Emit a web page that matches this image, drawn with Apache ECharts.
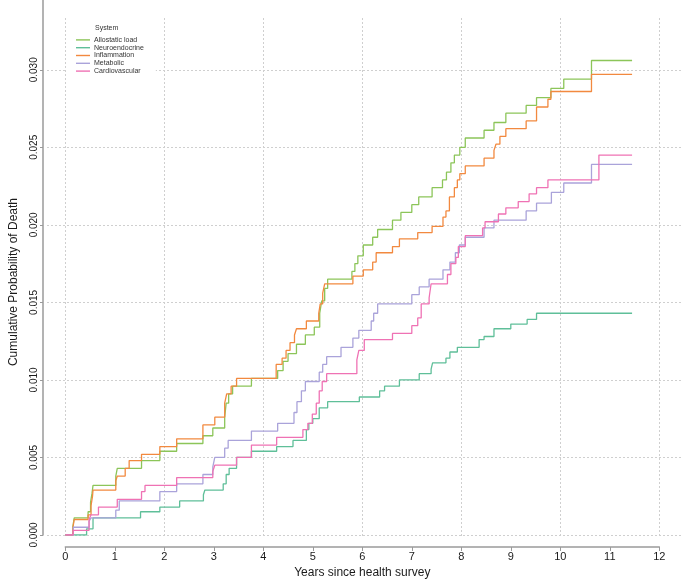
<!DOCTYPE html>
<html>
<head>
<meta charset="utf-8">
<script src="https://cdn.jsdelivr.net/npm/echarts@6/dist/echarts.min.js"></script>
<style>
html,body{margin:0;padding:0;background:#fff;}
#chart{width:685px;height:580px;}
</style>
</head>
<body>
<div id="chart"></div>
<script>
// ---- data: [years, cumulative probability] at each step ----
const seriesNames = ['Allostatic load', 'Neuroendocrine', 'Inflammation', 'Metabolic', 'Cardiovascular'];

const allostaticLoad = [[0,0],[0.15,0.0005],[0.18,0.0011],[0.46,0.0015],[0.51,0.0021],[0.54,0.0027],[0.56,0.0032],[1.02,0.0038],[1.05,0.0043],[1.54,0.0048],[1.91,0.0054],[2.25,0.0059],[2.78,0.0064],[2.98,0.0069],[3.22,0.0076],[3.25,0.0085],[3.3,0.0091],[3.38,0.0096],[3.76,0.0101],[4.29,0.0106],[4.4,0.0112],[4.5,0.0117],[4.67,0.0123],[4.85,0.0129],[5.03,0.0134],[5.14,0.0143],[5.18,0.0151],[5.24,0.0159],[5.3,0.0165],[5.79,0.017],[5.85,0.0175],[5.91,0.018],[6.02,0.0187],[6.21,0.0192],[6.31,0.0197],[6.61,0.0203],[6.78,0.0208],[7.0,0.0213],[7.14,0.0218],[7.41,0.0224],[7.62,0.0229],[7.7,0.0234],[7.79,0.024],[7.86,0.0245],[7.97,0.025],[8.08,0.0256],[8.46,0.0261],[8.66,0.0266],[8.9,0.0272],[9.31,0.0277],[9.52,0.0282],[9.81,0.0288],[10.07,0.0294],[10.63,0.0306],[11.45,0.0306]];

const neuroendocrine = [[0,0],[0.43,0.0004],[0.56,0.0011],[1.52,0.0015],[1.91,0.0018],[2.31,0.0022],[2.79,0.0026],[2.82,0.0029],[3.19,0.0033],[3.25,0.0039],[3.31,0.0043],[3.46,0.005],[3.76,0.0054],[4.27,0.0057],[4.6,0.0061],[4.87,0.0068],[4.92,0.0072],[5.0,0.0075],[5.13,0.0082],[5.3,0.0086],[5.94,0.0089],[6.35,0.0093],[6.45,0.0096],[6.75,0.01],[7.15,0.0104],[7.39,0.0107],[7.42,0.0111],[7.69,0.0114],[7.77,0.0118],[7.92,0.0121],[8.36,0.0126],[8.46,0.0128],[8.66,0.0133],[9.0,0.0136],[9.33,0.0139],[9.52,0.0143],[11.45,0.0143]];

const inflammation = [[0,0],[0.15,0.0004],[0.18,0.001],[0.46,0.0013],[0.52,0.0019],[0.55,0.0025],[0.56,0.0029],[1.02,0.0035],[1.05,0.0038],[1.21,0.0043],[1.29,0.0048],[1.54,0.0052],[1.91,0.0057],[2.25,0.0062],[2.78,0.0071],[3.02,0.0076],[3.22,0.0085],[3.26,0.0091],[3.35,0.0096],[3.46,0.0101],[4.26,0.011],[4.38,0.0114],[4.46,0.0119],[4.54,0.0124],[4.63,0.0129],[4.67,0.0133],[4.87,0.0138],[5.12,0.0143],[5.15,0.0149],[5.2,0.0156],[5.24,0.0162],[5.81,0.0167],[6.02,0.0171],[6.21,0.0176],[6.28,0.0182],[6.61,0.0186],[6.75,0.0191],[7.12,0.0195],[7.41,0.0199],[7.63,0.0205],[7.69,0.0209],[7.76,0.0218],[7.86,0.0224],[7.92,0.0229],[7.97,0.0233],[8.08,0.0238],[8.46,0.0243],[8.66,0.0248],[8.7,0.0252],[8.78,0.0257],[8.9,0.0262],[9.31,0.0267],[9.52,0.0276],[9.75,0.0281],[9.81,0.0286],[10.63,0.0297],[11.45,0.0297]];

const metabolic = [[0,0],[0.16,0.0005],[0.48,0.0009],[0.52,0.0011],[1.02,0.0016],[1.09,0.0022],[1.91,0.0028],[2.25,0.0033],[2.78,0.0039],[2.98,0.0044],[3.02,0.005],[3.22,0.0056],[3.29,0.0061],[3.76,0.0067],[4.29,0.0072],[4.62,0.0079],[4.68,0.0086],[4.77,0.0093],[4.85,0.0099],[5.13,0.0105],[5.2,0.011],[5.28,0.0115],[5.57,0.0121],[5.81,0.0127],[5.93,0.0132],[6.18,0.0138],[6.23,0.0143],[6.31,0.0149],[7.0,0.0155],[7.15,0.016],[7.35,0.0165],[7.63,0.0171],[7.77,0.0176],[7.88,0.0182],[7.96,0.0187],[8.08,0.0192],[8.46,0.0198],[8.66,0.0203],[9.31,0.0209],[9.52,0.0214],[9.82,0.0221],[10.07,0.0227],[10.63,0.0239],[11.45,0.0239]];

const cardiovascular = [[0,0],[0.16,0.0003],[0.48,0.001],[0.52,0.0013],[0.67,0.0018],[1.05,0.0023],[1.54,0.0028],[1.61,0.0032],[2.25,0.0037],[2.98,0.0041],[3.02,0.0045],[3.46,0.005],[3.76,0.0058],[4.27,0.0063],[4.8,0.0068],[4.9,0.0072],[4.99,0.0078],[5.07,0.0085],[5.13,0.0093],[5.19,0.0099],[5.28,0.0104],[5.89,0.0113],[5.93,0.0119],[6.04,0.0126],[6.61,0.013],[7.0,0.0135],[7.12,0.014],[7.19,0.0149],[7.35,0.0153],[7.39,0.0162],[7.72,0.0168],[7.79,0.0175],[7.89,0.0179],[7.94,0.0186],[8.08,0.0193],[8.43,0.0198],[8.48,0.0202],[8.75,0.0207],[8.9,0.0211],[9.15,0.0215],[9.37,0.022],[9.52,0.0224],[9.75,0.0229],[10.78,0.0245],[11.45,0.0245]];

const seriesData = [allostaticLoad, neuroendocrine, inflammation, metabolic, cardiovascular];
const seriesColors = ['#8cc559', '#5fbf99', '#f2893f', '#aaa3da', '#ef72b4'];

const xTicks = {min: 0, max: 12, interval: 1};
const yTicks = {min: 0, max: 0.0345, interval: 0.005};

// ---- chart ----
const FONT = 'Liberation Sans, Arial, sans-serif';
const chart = echarts.init(document.getElementById('chart'), null, {renderer: 'canvas'});
const gridLine = {show: true, lineStyle: {color: '#cfcfcf', type: [2, 2], width: 1}};

const option = {
  animation: false,
  backgroundColor: '#fff',
  textStyle: {fontFamily: FONT},
  title: {
    text: 'System', left: 95, top: 25, padding: 0,
    textStyle: {fontSize: 7, fontWeight: 'normal', color: '#333', fontFamily: FONT}
  },
  legend: {
    data: seriesNames,
    orient: 'vertical',
    left: 67, top: 22,
    padding: [14, 12, 4, 9],
    backgroundColor: '#fff',
    icon: 'rect',
    itemWidth: 14, itemHeight: 1.4, itemGap: 0,
    textStyle: {fontSize: 7, lineHeight: 7.8, color: '#333', fontFamily: FONT, padding: [0, 0, 0, -1]}
  },
  grid: [
    {left: 47, right: 3, top: 0, bottom: 45},
    {left: 65.3, right: 25.7, top: 0, bottom: 45},
    {left: 65.3, right: 25.7, top: 540, bottom: 31.5},
    {left: 43, right: 25.7, top: 29, bottom: 45},
    {left: 65.3, right: 25.7, top: 18, bottom: 43}
  ],
  xAxis: [
    {gridIndex: 0, type: 'value', min: 0, max: 1, show: false},
    {gridIndex: 1, type: 'value', min: xTicks.min, max: xTicks.max, interval: 2,
      axisLine: {show: false}, axisTick: {show: false}, axisLabel: {show: false},
      splitLine: {show: false}},
    {gridIndex: 2, type: 'value', min: xTicks.min, max: xTicks.max, interval: xTicks.interval,
      axisLine: {show: true, onZero: false, lineStyle: {color: '#9a9a9a', width: 1.5}},
      axisTick: {show: true, length: 4, lineStyle: {color: '#9a9a9a', width: 1}},
      axisLabel: {show: true, fontSize: 11, color: '#1a1a1a', margin: 4, fontFamily: FONT},
      splitLine: {show: false},
      name: 'Years since health survey', nameLocation: 'middle', nameGap: 20,
      nameTextStyle: {fontSize: 12, color: '#1a1a1a', fontFamily: FONT}},
    {gridIndex: 3, type: 'value', min: 0, max: 1, show: false},
    {gridIndex: 4, type: 'value', min: xTicks.min, max: xTicks.max, interval: 2,
      axisLine: {show: false, onZero: false}, axisTick: {show: false}, axisLabel: {show: false},
      splitLine: gridLine}
  ],
  yAxis: [
    {gridIndex: 0, type: 'value', min: yTicks.min, max: yTicks.max, interval: yTicks.interval,
      axisLine: {show: false}, axisTick: {show: false}, axisLabel: {show: false},
      splitLine: Object.assign({showMaxLine: false}, gridLine)},
    {gridIndex: 1, type: 'value', min: yTicks.min, max: yTicks.max, interval: yTicks.interval,
      offset: 22.3,
      axisLine: {show: true, onZero: false, lineStyle: {color: '#9a9a9a', width: 1.5}},
      axisTick: {show: true, length: 3, lineStyle: {color: '#9a9a9a'}},
      axisLabel: {show: true, rotate: 90, fontSize: 10, color: '#1a1a1a', margin: 4, showMaxLabel: false,
        fontFamily: FONT, formatter: v => v.toFixed(3)},
      splitLine: {show: false}},
    {gridIndex: 2, type: 'value', min: 0, max: 1, show: false},
    {gridIndex: 3, type: 'value', min: 0, max: 1,
      axisLine: {show: false, onZero: false}, axisTick: {show: false}, axisLabel: {show: false},
      splitLine: {show: false},
      name: 'Cumulative Probability of Death', nameLocation: 'middle', nameGap: 35,
      nameTextStyle: {fontSize: 12, color: '#1a1a1a', fontFamily: FONT}},
    {gridIndex: 4, type: 'value', min: 0, max: 1, show: false}
  ],
  series: seriesNames.map((name, i) => ({
    name: name,
    type: 'line',
    step: 'end',
    xAxisIndex: 1, yAxisIndex: 1,
    showSymbol: false,
    symbol: 'none',
    color: seriesColors[i],
    lineStyle: {width: 1.3, color: seriesColors[i]},
    data: seriesData[i]
  }))
};
chart.setOption(option);
</script>
</body>
</html>
